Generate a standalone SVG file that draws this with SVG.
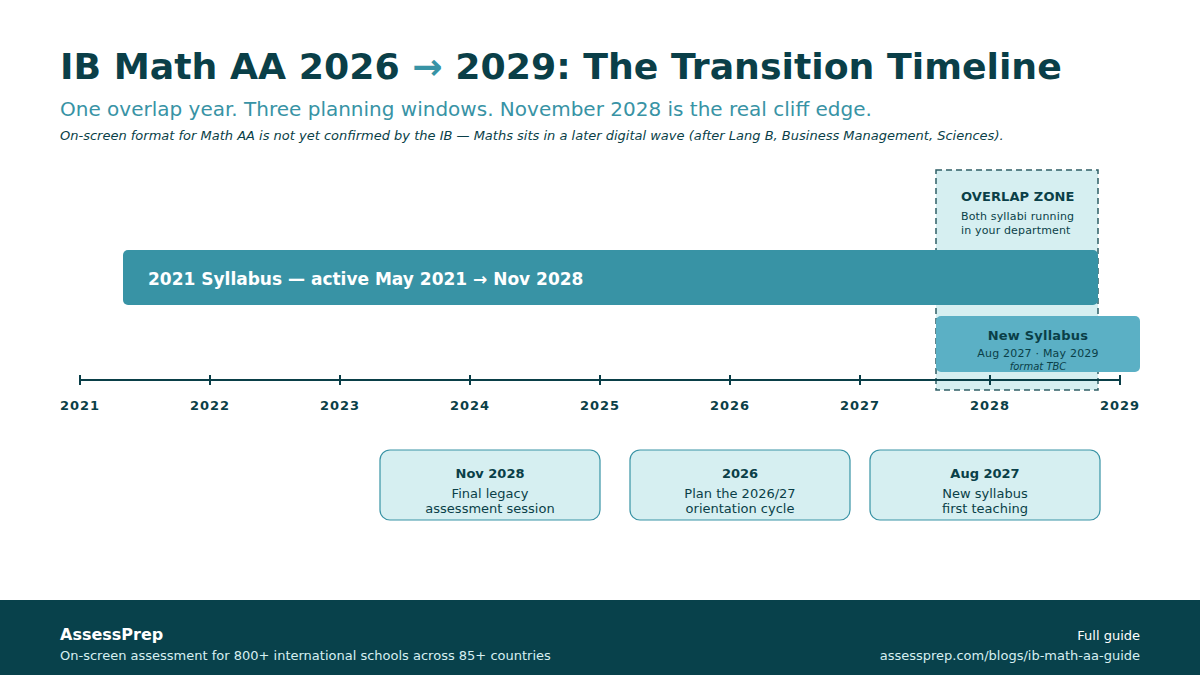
<svg xmlns="http://www.w3.org/2000/svg" width="1200" height="675" viewBox="0 0 1200 675">
<style>
text{font-family:"DejaVu Sans","Noto Sans",sans-serif;}
.dark{fill:#0a3f48;}
.yr{font-size:13px;font-weight:bold;fill:#0a3f48;text-anchor:middle;letter-spacing:1px;}
.tick{stroke:#0a3f48;stroke-width:2;}
.card{fill:#d6eff1;stroke:#3893a5;stroke-width:1.2;}
.ct{font-size:13px;font-weight:bold;fill:#0a3f48;text-anchor:middle;}
.cl{font-size:13px;fill:#0a3f48;text-anchor:middle;}
</style>
<rect width="1200" height="675" fill="#ffffff"/>
<g id="header">
<text x="60" y="79" font-size="36.25" font-weight="bold" class="dark">IB Math AA 2026 <tspan fill="#3893a5">→</tspan> 2029: The Transition Timeline</text>
<text x="60" y="116" font-size="20" fill="#3893a5">One overlap year. Three planning windows. November 2028 is the real cliff edge.</text>
<text x="60" y="140" font-size="13" font-style="italic" class="dark">On-screen format for Math AA is not yet confirmed by the IB — Maths sits in a later digital wave (after Lang B, Business Management, Sciences).</text>
</g>
<g id="overlap-zone">
<rect x="936" y="170" width="162" height="220" fill="#d6eff1" stroke="#2f5f66" stroke-width="1.5" stroke-dasharray="6,4"/>
<text x="961" y="201" font-size="13" font-weight="bold" class="dark" letter-spacing="0.1">OVERLAP ZONE</text>
<text x="961" y="220" font-size="11" class="dark" letter-spacing="0.15">Both syllabi running</text>
<text x="961" y="234" font-size="11" class="dark" letter-spacing="0.15">in your department</text>
</g>
<g id="legacy-bar">
<rect x="123" y="250" width="975" height="55" rx="5" fill="#3893a5"/>
<text x="148" y="285" font-size="17" font-weight="bold" fill="#ffffff">2021 Syllabus — active May 2021 → Nov 2028</text>
</g>
<g id="axis">
<line x1="80" y1="380" x2="1120" y2="380" class="tick"/>
<line x1="80" y1="375" x2="80" y2="385" class="tick"/>
<line x1="210" y1="375" x2="210" y2="385" class="tick"/>
<line x1="340" y1="375" x2="340" y2="385" class="tick"/>
<line x1="470" y1="375" x2="470" y2="385" class="tick"/>
<line x1="600" y1="375" x2="600" y2="385" class="tick"/>
<line x1="730" y1="375" x2="730" y2="385" class="tick"/>
<line x1="860" y1="375" x2="860" y2="385" class="tick"/>
<line x1="990" y1="375" x2="990" y2="385" class="tick"/>
<line x1="1120" y1="375" x2="1120" y2="385" class="tick"/>
<text x="80" y="410" class="yr">2021</text>
<text x="210" y="410" class="yr">2022</text>
<text x="340" y="410" class="yr">2023</text>
<text x="470" y="410" class="yr">2024</text>
<text x="600" y="410" class="yr">2025</text>
<text x="730" y="410" class="yr">2026</text>
<text x="860" y="410" class="yr">2027</text>
<text x="990" y="410" class="yr">2028</text>
<text x="1120" y="410" class="yr">2029</text>
</g>
<g id="new-syllabus">
<rect x="936" y="316" width="204" height="56" rx="5" fill="#5bb0c5"/>
<text x="1038" y="340" font-size="13" font-weight="bold" class="dark" text-anchor="middle" letter-spacing="0.2">New Syllabus</text>
<text x="1038" y="357" font-size="11" class="dark" text-anchor="middle" letter-spacing="0.2">Aug 2027 · May 2029</text>
<text x="1038" y="370" font-size="10" font-style="italic" class="dark" text-anchor="middle">format TBC</text>
</g>
<g id="card-nov2028">
<rect x="380" y="450" width="220" height="70" rx="10" class="card"/>
<text x="490" y="478" class="ct">Nov 2028</text>
<text x="490" y="498" class="cl">Final legacy</text>
<text x="490" y="513" class="cl">assessment session</text>
</g>
<g id="card-2026">
<rect x="630" y="450" width="220" height="70" rx="10" class="card"/>
<text x="740" y="478" class="ct">2026</text>
<text x="740" y="498" class="cl">Plan the 2026/27</text>
<text x="740" y="513" class="cl">orientation cycle</text>
</g>
<g id="card-aug2027">
<rect x="870" y="450" width="230" height="70" rx="10" class="card"/>
<text x="985" y="478" class="ct">Aug 2027</text>
<text x="985" y="498" class="cl">New syllabus</text>
<text x="985" y="513" class="cl">first teaching</text>
</g>
<g id="connectors"></g>
<g id="footer">
<rect x="0" y="600" width="1200" height="75" fill="#08414b"/>
<text x="60" y="640" font-size="16" font-weight="bold" fill="#ffffff">AssessPrep</text>
<text x="60" y="660" font-size="13" fill="#d6eff1">On-screen assessment for 800+ international schools across 85+ countries</text>
<text x="1140" y="640" font-size="13" fill="#ffffff" text-anchor="end">Full guide</text>
<text x="1140" y="660" font-size="13" fill="#d6eff1" text-anchor="end">assessprep.com/blogs/ib-math-aa-guide</text>
</g>
</svg>
